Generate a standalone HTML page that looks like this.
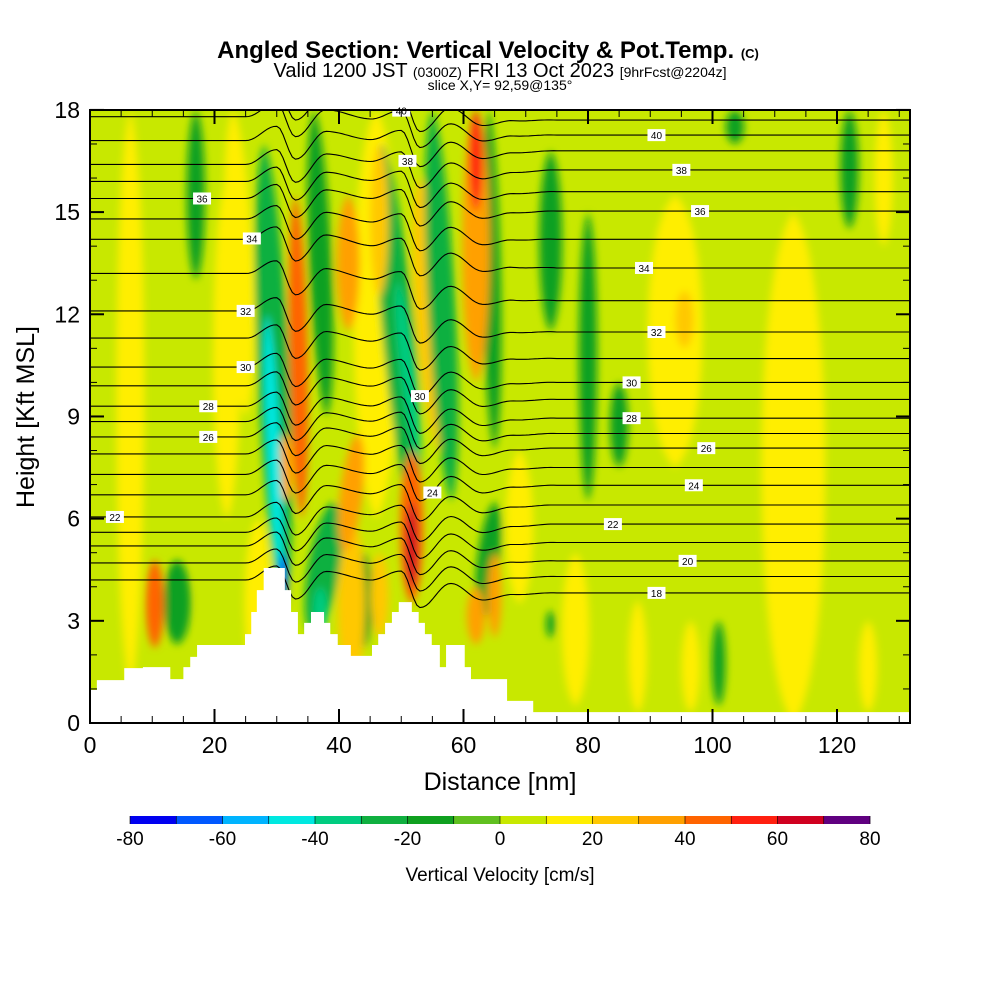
<!DOCTYPE html>
<html><head><meta charset="utf-8"><style>
body{margin:0;background:#fff;}
svg{display:block;font-family:"Liberation Sans",Arial,sans-serif;}
</style></head><body>
<svg id="chart" width="1000" height="1000" viewBox="0 0 1000 1000">
<defs>
<clipPath id="plotClip"><rect x="90" y="110" width="820" height="613"/></clipPath>
<filter id="blur" x="-50%" y="-50%" width="200%" height="200%"><feGaussianBlur stdDeviation="4"/></filter>
</defs>
<g text-anchor="middle">
<text x="488" y="58" font-size="24" font-weight="bold">Angled Section: Vertical Velocity &amp; Pot.Temp. <tspan font-size="13">(C)</tspan></text>
<text x="500" y="77" font-size="20">Valid 1200 JST <tspan font-size="14">(0300Z)</tspan> FRI 13 Oct 2023 <tspan font-size="14">[9hrFcst@2204z]</tspan></text>
<text x="500" y="90" font-size="14">slice X,Y= 92,59@135°</text>
</g>
<rect x="90" y="110" width="820" height="613" fill="#c8e800"/>
<g id="field" clip-path="url(#plotClip)"><g id="stripes" filter="url(#blur)"></g></g>
<g id="contours" clip-path="url(#plotClip)"></g>
<g id="terrain"></g>
<g id="labels"></g>
<rect x="90" y="110" width="820" height="613" fill="none" stroke="#000" stroke-width="2"/>
<g id="axes"></g>
<text x="500" y="790" font-size="25" text-anchor="middle">Distance [nm]</text>
<text x="0" y="0" font-size="25" text-anchor="middle" transform="translate(34,417) rotate(-90)">Height [Kft MSL]</text>
<g id="colorbar"></g>
<text x="500" y="881" font-size="19" text-anchor="middle">Vertical Velocity [cm/s]</text>
</svg>
<script>
// ---- data ----
var xTicks=[0,20,40,60,80,100,120];
var yTicks=[0,3,6,9,12,15,18];
var cbTicks=[-80,-60,-40,-20,0,20,40,60,80];
var cbColors=["#0000f0","#0058ff","#00b4ff","#00e8e0","#00cc80","#10b040","#10a020","#60c020","#c8e800","#ffee00","#ffc800","#ffa000","#ff6400","#ff2010","#d00020","#600080"];
var terrainX=[0,1.1,5.5,8.5,12.9,15.0,16.1,17.2,24.9,25.9,26.8,27.9,31.3,32.3,33.4,34.4,35.5,37.6,38.6,39.8,41.9,45.3,46.3,47.4,48.5,49.6,51.7,52.8,53.8,54.9,56.2,57.2,60.2,61.2,67.0,71.2,132];
var terrainH=[0.97,1.26,1.61,1.64,1.29,1.64,1.94,2.29,2.61,3.26,3.9,4.55,3.9,3.26,2.61,2.94,3.26,2.94,2.61,2.29,1.97,2.29,2.61,2.94,3.26,3.55,3.26,2.94,2.61,2.29,1.64,2.29,1.64,1.29,0.65,0.32];
var stripeX=[3,10.4,14,20,10,22,4,17,46,31,30.5,31,34,31.5,38,36,37,41.5,41,46.5,44,51.7,51.7,52,52.5,58,62,62,65,63,62,46.5,74,80,85,94,95.5,103.6,122,113,88,96.5,101,125,74,78,127.5,69,65,6.5,25,27,42,56];
var stripeBot=[0.5,2.2,2.3,1,8,6,12,13,6,3.5,4,3.4,6,6.5,9,2.5,2.5,11.5,5,2.5,2.2,3.9,3.5,6,7.7,6.5,10,15,8,3,2.3,12.5,11.5,6.5,7.5,7.5,11,17,14.5,0,0.3,0.3,0.5,0.3,2.5,0.5,14,3.5,2.5,1,9,1,1,8];
var stripeTop=[13,4.8,4.8,11,17,16,18,18,18,17,12,5,15.5,8.5,18,6.5,4,15.5,8.5,5,5,6.5,8,17,13,18,18,18,18,6.5,4,17,16.8,15,10,15.5,12.7,18,18,15,3.6,3,3,3,3.3,5,18,8,5,18,18,6,6,16];
var stripeW=[4,2,3,4,4,3,3,2,5,3.5,1.5,1,2,1.5,2.5,3.5,1.5,2.5,2.5,2,2,1.3,2.5,3.5,1.5,3,3,1.5,2,2.5,2,2,2.5,2,2,6,2,2,2,7,2,2,1.5,2,1,3,2,3,1.5,3,3,3,3,3];
var stripeVal=[8,40,-20,8,8,10,8,-12,10,-25,-45,-70,40,30,-20,-30,-40,30,30,25,-15,65,40,-25,-40,-25,30,50,-20,-20,30,25,-20,-12,-20,10,25,-20,-20,10,10,10,-15,10,-20,10,10,10,30,10,10,10,20,20];
var stripeTilt=[0,0,0,0,0,0,0,0,0,-3,-2,0,-1,0,-2,3,0,0,2,0,0,0,0,-5,-3,-3,0,0,-1,2,0,0,0,0,0,0,0,0,0,0,0,0,0,0,0,0,0,0,0,0,-2,0,0,-3];
var thetaLevels=[18,19,20,21,22,23,24,25,26,27,28,29,30,31,32,33,34,35,36,37,38,39,40,41];
var thetaLeft=[4.2,4.7,5.2,5.6,6.05,6.7,7.3,7.9,8.4,8.85,9.3,9.9,10.45,11.3,12.1,13.2,14.2,14.8,15.4,15.9,16.4,17.1,17.8,18.3];
var thetaRight=[3.82,4.3,4.76,5.3,5.84,6.4,6.98,7.5,8.07,8.5,8.95,9.5,10.0,10.7,11.48,12.4,13.36,14.2,15.03,15.6,16.24,16.8,17.26,17.7];
var waveX=[0,25,30,33,38,45,50,53,58,63,68,75,132];
var waveH=[0,0,0.45,-0.5,0.35,0.15,0.45,-0.6,0.15,-0.3,-0.1,0,0];
var labelLevels=[40,38,36,34,32,30,28,26,24,22,20,18,36,34,32,30,28,26,22,40,38,30,24];
var labelX=[91,95,98,89,91,87,87,99,97,84,96,91,18,26,25,25,19,19,4,50,51,53,55];

// ---- helpers ----
var svgNS="http://www.w3.org/2000/svg";
function X(v){return 90+v*6.225;}
function Y(v){return 723-v*34.06;}
function mk(t,a,p){var e=document.createElementNS(svgNS,t);for(var k in a)e.setAttribute(k,a[k]);(p||document.getElementById('chart')).appendChild(e);return e;}
function colorFor(v){var i;if(v>=0&&v<10)return cbColors[8];if(v<0)i=Math.floor((v+80)/10);else i=Math.floor(v/10)+8;i=Math.max(0,Math.min(15,i));return cbColors[i];}
function interp(xs,ys,x){for(var i=0;i<xs.length-1;i++){if(x>=xs[i]&&x<=xs[i+1]){var t=(x-xs[i])/(xs[i+1]-xs[i]);t=(1-Math.cos(Math.PI*t))/2;return ys[i]+t*(ys[i+1]-ys[i]);}}return ys[ys.length-1];}
function thetaH(li,x){var w=Math.max(0,Math.min(1,(x-25)/50));return thetaLeft[li]*(1-w)+thetaRight[li]*w+interp(waveX,waveH,x);}

// ---- stripes ----
var sg=document.getElementById('stripes');
var order=stripeX.map(function(_,i){return i;}).sort(function(a,b){return Math.abs(stripeVal[a])-Math.abs(stripeVal[b]);});
order.forEach(function(i){
  var xb=X(stripeX[i]),xt=X(stripeX[i]+stripeTilt[i]),yb=Y(stripeBot[i]),yt=Y(stripeTop[i]),hw=stripeW[i]*6.225*0.75;
  var h=yb-yt;
  var d="M"+xb+","+yb+" C"+(xb+hw*1.3)+","+(yb-h*0.1)+" "+(xt+hw*1.3)+","+(yt+h*0.1)+" "+xt+","+yt+" C"+(xt-hw*1.3)+","+(yt+h*0.1)+" "+(xb-hw*1.3)+","+(yb-h*0.1)+" "+xb+","+yb+"Z";
  var p=mk('path',{d:d,fill:colorFor(stripeVal[i])},sg);
  
  
});

// ---- contours ----
var cg=document.getElementById('contours');
thetaLevels.forEach(function(lv,li){
  var pts=[];
  for(var x=0;x<=132;x+=0.5){pts.push(X(x).toFixed(1)+","+Y(thetaH(li,x)).toFixed(1));}
  var pl=mk('polyline',{points:pts.join(" "),fill:"none",stroke:"#000","stroke-width":1.1},cg);
  
  
});

// ---- terrain ----
var tg=document.getElementById('terrain');
var d="M"+X(0)+","+Y(0);
for(var i=0;i<terrainH.length;i++){d+=" L"+X(terrainX[i])+","+Y(terrainH[i])+" L"+X(terrainX[i+1])+","+Y(terrainH[i]);}
d+=" L"+X(132)+","+Y(0)+"Z";
var tp=mk('path',{d:d,fill:"#fff"},tg);



// ---- contour labels ----
var lg=document.getElementById('labels');
labelLevels.forEach(function(lv,i){
  var li=thetaLevels.indexOf(lv);var x=X(labelX[i]),y=Y(thetaH(li,labelX[i]));
  var r=mk('rect',{x:x-9,y:y-6,width:18,height:12,fill:"#fff"},lg);
  
  
  var t=mk('text',{x:x,y:y+4,"font-size":10,"text-anchor":"middle"},lg);t.textContent=lv;
  
  
});

// ---- axes ----
var ag=document.getElementById('axes');
for(var v=0;v<=130;v+=5){var maj=v%20==0;var l1=mk('line',{x1:X(v),x2:X(v),y1:723,y2:723-(maj?14:7),stroke:"#000","stroke-width":maj?2:1},ag);
 var l2=mk('line',{x1:X(v),x2:X(v),y1:110,y2:110+(maj?14:7),stroke:"#000","stroke-width":maj?2:1},ag);}
for(var v=0;v<=18;v+=1){var maj=v%3==0;var l1=mk('line',{x1:90,x2:90+(maj?14:7),y1:Y(v),y2:Y(v),stroke:"#000","stroke-width":maj?2:1},ag);
 var l2=mk('line',{x1:910,x2:910-(maj?14:7),y1:Y(v),y2:Y(v),stroke:"#000","stroke-width":maj?2:1},ag);}
xTicks.forEach(function(v){var t=mk('text',{x:X(v),y:753,"font-size":23,"text-anchor":"middle"},ag);t.textContent=v;});
yTicks.forEach(function(v){var t=mk('text',{x:80,y:Y(v)+8,"font-size":23,"text-anchor":"end"},ag);t.textContent=v;});

// ---- colorbar ----
var cb=document.getElementById('colorbar');
cbColors.forEach(function(c,i){var r=mk('rect',{x:130+i*46.25,y:816,width:46.5,height:8,fill:c},cb);});
for(var i=0;i<=16;i++){var l=mk('line',{x1:130+i*46.25,x2:130+i*46.25,y1:816,y2:824,stroke:"#000","stroke-width":0.6},cb);}
cbTicks.forEach(function(v){var t=mk('text',{x:500+v*4.625,y:845,"font-size":19,"text-anchor":"middle"},cb);t.textContent=v;});
</script>
</body></html>
